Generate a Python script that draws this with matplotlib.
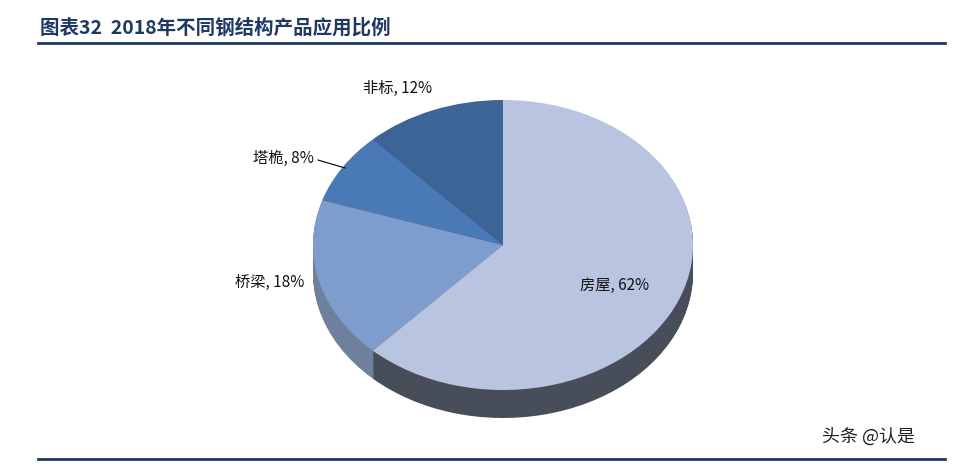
import matplotlib
matplotlib.use("Agg")
import matplotlib.pyplot as plt

plt.rcParams['font.family'] = ['Noto Sans CJK SC', 'DejaVu Sans']

categories = ['房屋', '桥梁', '塔桅', '非标']
values = [62, 18, 8, 12]
top_colors = ['#B8C4E0', '#7F9DCC', '#4A7AB5', '#3D6496']
side_colors = ['#474D59', '#6F7F9E', '#3F5F8A', '#34507A']

W, H = 966, 465
fig = plt.figure(figsize=(W/100, H/100), dpi=100)

# pie axes positioned in pixel box
x0, x1, ytop, ybot = 313, 693, 100, 418
ry_px = 145
depth = (ybot - ytop - 2*ry_px) / ry_px
ax = fig.add_axes([x0/W, 1-ybot/H, (x1-x0)/W, (ybot-ytop)/H])

n = 30
for i in range(n, 0, -1):
    off = depth * i / n
    ax.pie(values, colors=side_colors, startangle=90, counterclock=False,
           center=(0, -off), radius=1, wedgeprops=dict(linewidth=0))
ax.pie(values, colors=top_colors, startangle=90, counterclock=False,
       center=(0, 0), radius=1, wedgeprops=dict(linewidth=0))
ax.set_aspect('auto')
ax.set_xlim(-1, 1)
ax.set_ylim(-1-depth, 1)
ax.axis('off')

labels = [f'{c}, {v}%' for c, v in zip(categories, values)]
pos = [(615, 285), (270, 282), (283, 158), (398, 88)]
for lab, (px, py) in zip(labels, pos):
    fig.text(px/W, 1-py/H, lab, ha='center', va='center', fontsize=11, color='#111111')
fig.add_artist(plt.Line2D([318/W, 345/W], [1-160/H, 1-168/H], color='black', lw=0.8))

# title and rules
fig.text(40/W, 1-28/H, '图表32  2018年不同钢结构产品应用比例', ha='left', va='center',
         fontsize=14, fontweight='bold', color='#1F3864')
fig.add_artist(plt.Line2D([38/W, 945/W], [1-43/H, 1-43/H], color='#1F3864', lw=2))
fig.add_artist(plt.Line2D([38/W, 945/W], [1-459/H, 1-459/H], color='#1F3864', lw=2))
fig.text(822/W, 1-437/H, '头条 @认是', ha='left', va='center', fontsize=13, color='#222222')

fig.savefig('out.png', dpi=100)
